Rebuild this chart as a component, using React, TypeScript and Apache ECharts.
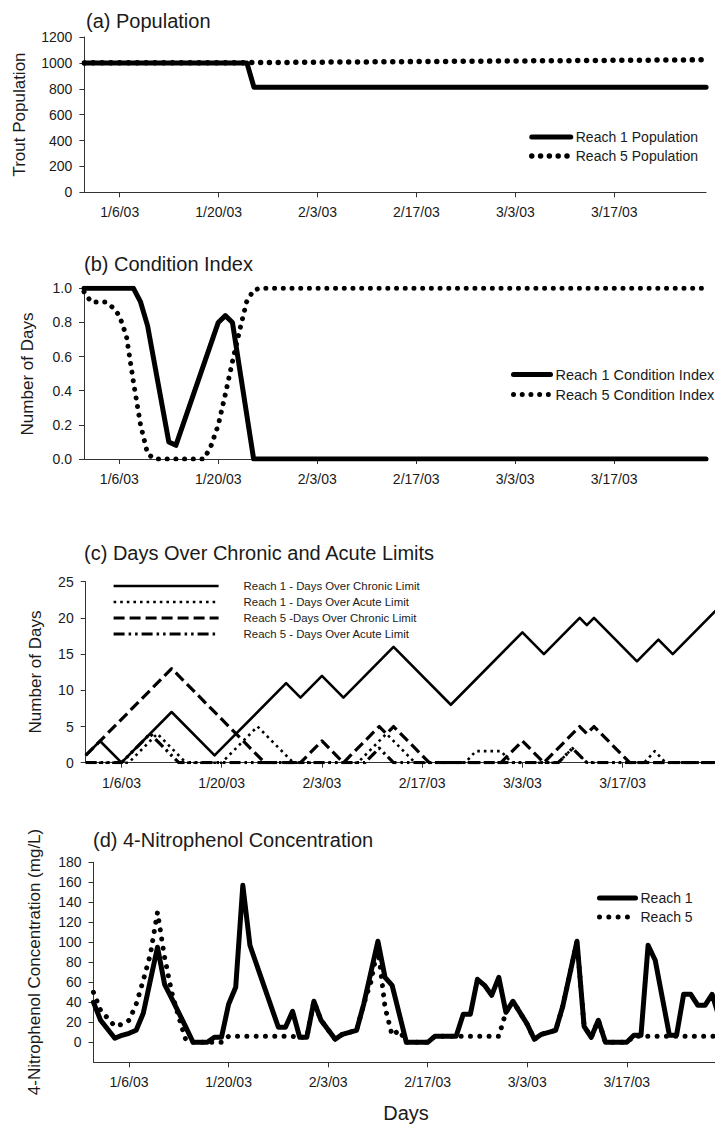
import React, { useEffect, useRef } from "react";
import * as echarts from "echarts";

// x values are days counted from 1/1/03
const tickDays = [5, 19, 33, 47, 61, 75];
const tickLabels = ["1/6/03", "1/20/03", "2/3/03", "2/17/03", "3/3/03", "3/17/03"];
const concTicks = [0, 20, 40, 60, 80, 100, 120, 140, 160, 180];

// (a) Population
const popReach1 = [[0, 1000], [23, 1000], [24, 812], [88, 812]];
const popReach5 = [[0, 1000], [23, 1002], [88, 1024]];

// (b) Condition index
const condReach1 = [[0, 1], [7, 1], [8, 0.92], [9, 0.78], [12, 0.1], [13, 0.08], [19, 0.8], [20, 0.84], [21, 0.8], [24, 0], [88, 0]];
const condReach5 = [[0, 0.98], [1, 0.92], [3, 0.92], [4, 0.89], [5, 0.84], [6, 0.72], [7, 0.45], [8, 0.2], [9, 0.03], [10, 0], [17, 0], [18, 0.08], [19, 0.2], [20, 0.38], [21, 0.57], [22, 0.75], [23, 0.92], [24, 0.99], [25, 1], [88, 1]];

// (c) Days over chronic and acute limits
const chronicReach1 = [[0, 1], [2, 3], [5, 0], [12, 7], [18, 1], [28, 11], [30, 9], [33, 12], [36, 9], [43, 16], [51, 8], [61, 18], [64, 15], [69, 20], [70, 19], [71, 20], [77, 14], [80, 17], [82, 15], [88, 21]];
const acuteReach1 = [[0, 0], [6, 0], [10, 4], [14, 0], [19, 0], [24, 5], [29, 0], [38, 0], [42, 4], [46, 0], [53, 0], [54.5, 1.6], [58, 1.6], [59.5, 0], [66, 0], [68, 2], [70, 0], [78, 0], [79.5, 1.6], [81, 0], [88, 0]];
const chronicReach5 = [[0, 1], [12, 13], [25, 0], [30, 0], [33, 3], [36, 0], [41, 5], [42, 4], [43, 5], [48, 0], [58, 0], [61, 3], [64, 0], [69, 5], [70, 4], [71, 5], [76, 0], [88, 0]];
const acuteReach5 = [[0, 0], [5, 0], [9, 4], [13, 0], [39, 0], [41, 2], [43, 0], [66, 0], [68, 2], [70, 0], [88, 0]];

// (d) 4-Nitrophenol concentration (mg/L)
const concReach1 = [[0, 40], [1, 22], [3, 4], [4, 7], [5, 9], [6, 12], [7, 29], [9, 95], [10, 58], [11, 44], [13, 15], [14, 0], [16, 0], [17, 5], [18, 5], [19, 38], [20, 55], [21, 157], [22, 97], [26, 15], [27, 15], [28, 31], [29, 5], [30, 5], [31, 41], [32, 22], [34, 3], [35, 8], [37, 12], [38, 38], [40, 101], [41, 65], [42, 57], [44, 0], [47, 0], [48, 6], [51, 6], [52, 28], [53, 28], [54, 63], [55, 57], [56, 47], [57, 65], [58, 30], [59, 41], [61, 18], [62, 3], [63, 8], [64, 10], [65, 12], [66, 36], [68, 101], [69, 16], [70, 5], [71, 22], [72, 0], [75, 0], [76, 7], [77, 7], [78, 97], [79, 82], [81, 7], [82, 7], [83, 48], [84, 48], [85, 37], [86, 37], [87, 48], [88, 25]];
const concReach5 = [[0, 50], [1, 32], [2, 24], [3, 16], [4, 18], [5, 22], [6, 38], [7, 62], [8, 88], [9, 130], [10, 85], [11, 50], [12, 25], [13, 2], [14, 0], [18, 0], [19, 6], [28, 6], [29, 5], [30, 5], [31, 41], [32, 22], [34, 3], [35, 8], [37, 12], [38, 38], [39, 60], [40, 95], [41, 35], [42, 7], [43, 12], [44, 0], [47, 0], [48, 6], [57, 6], [58, 30], [59, 41], [61, 18], [62, 3], [63, 8], [64, 10], [65, 12], [66, 36], [68, 101], [69, 16], [70, 5], [71, 22], [72, 0], [75, 0], [76, 6], [88, 6]];

const FONT = "'Liberation Sans', Arial, Helvetica, sans-serif";
const TXT = "#1a1a1a";
const AX = "#333";

function xAxis(gridIndex: number) {
  return {
    type: "value",
    gridIndex,
    min: 0,
    max: 88,
    axisLine: { onZero: false, lineStyle: { color: AX, width: 1 } },
    axisTick: { show: true, inside: false, length: 5, customValues: tickDays, lineStyle: { color: AX } },
    axisLabel: {
      customValues: tickDays,
      formatter: (v: number) => {
        const i = tickDays.indexOf(Math.round(v));
        return i >= 0 ? tickLabels[i] : "";
      },
      fontSize: 14,
      color: TXT,
      fontFamily: FONT,
      margin: 13,
    },
    splitLine: { show: false },
  };
}

function yAxis(gridIndex: number, min: number, max: number, interval: number, extra: any = {}) {
  return {
    type: "value",
    gridIndex,
    min,
    max,
    interval,
    axisLine: { show: true, onZero: false, lineStyle: { color: AX, width: 1 } },
    axisTick: { show: true, inside: false, length: 5, lineStyle: { color: AX }, ...(extra.axisTick || {}) },
    axisLabel: { fontSize: 14, color: TXT, fontFamily: FONT, margin: 12, formatter: (v: number) => String(v), ...(extra.axisLabel || {}) },
    splitLine: { show: false },
  };
}

function legend(names: string[], left: number, top: number, itemWidth: number, fontSize: number, itemHeight: number, textPad = 0) {
  return {
    data: names,
    orient: "vertical",
    left,
    top,
    padding: 0,
    itemWidth,
    itemHeight,
    itemGap: 5,
    selectedMode: false,
    itemStyle: { opacity: 0 },
    lineStyle: { width: "inherit", type: "inherit", cap: "inherit" },
    textStyle: { fontSize, color: TXT, fontFamily: FONT, padding: [0, 0, 0, textPad] },
  };
}

function line(name: string, xi: number, data: number[][], lineStyle: any, z = 2) {
  return {
    type: "line",
    name,
    xAxisIndex: xi,
    yAxisIndex: xi,
    data,
    symbol: "none",
    z,
    lineStyle: { color: "#000", join: "round", ...lineStyle },
  };
}

function buildOption() {
  const dots = (w: number, gap: number) => ({ width: w, type: [0.01, gap], cap: "round" });
  return {
    animation: false,
    backgroundColor: "#fff",
    textStyle: { fontFamily: FONT },
    grid: [
      { left: 84.4, top: 37, width: 621.7, height: 155.3, containLabel: false },
      { left: 84, top: 288.3, width: 622, height: 170.7, containLabel: false },
      { left: 85.7, top: 581.7, width: 630, height: 181, containLabel: false },
      { left: 93.5, top: 862.3, width: 625.7, height: 200, containLabel: false },
    ],
    xAxis: [xAxis(0), xAxis(1), xAxis(2), xAxis(3)],
    yAxis: [
      yAxis(0, 0, 1200, 200),
      yAxis(1, 0, 1, 0.2, { axisLabel: { formatter: (v: number) => v.toFixed(1) } }),
      yAxis(2, 0, 25, 5),
      yAxis(3, -20, 180, 20, {
        axisLabel: { customValues: concTicks, formatter: (v: number) => (v < 0 ? "" : String(v)) },
        axisTick: { customValues: concTicks },
      }),
    ],
    legend: [
      legend(["Reach 1 Population", "Reach 5 Population"], 529, 130, 39, 14, 14),
      legend(["Reach 1 Condition Index", "Reach 5 Condition Index"], 511, 367, 37, 14.5, 14),
      legend([
        "Reach 1 - Days Over Chronic Limit",
        "Reach 1 - Days Over Acute Limit",
        "Reach 5 -Days Over Chronic Limit",
        "Reach 5 - Days Over Acute Limit",
      ], 112, 580.5, 105, 11.4, 10.5, 20),
      legend(["Reach 1", "Reach 5"], 597, 891, 36, 14, 13),
    ],
    series: [
      line("Reach 1 Population", 0, popReach1, { width: 5, cap: "round" }),
      line("Reach 5 Population", 0, popReach5, dots(5.5, 8.8)),
      line("Reach 1 Condition Index", 1, condReach1, { width: 5, cap: "round" }),
      line("Reach 5 Condition Index", 1, condReach5, dots(5, 8.7), 3),
      line("Reach 1 - Days Over Chronic Limit", 2, chronicReach1, { width: 2.6 }),
      line("Reach 1 - Days Over Acute Limit", 2, acuteReach1, { width: 2.6, type: [2.6, 4] }),
      line("Reach 5 -Days Over Chronic Limit", 2, chronicReach5, { width: 3.2, type: [11, 5] }),
      line("Reach 5 - Days Over Acute Limit", 2, acuteReach5, { width: 3.2, type: [11, 4, 2.5, 4, 2.5, 4] }),
      line("Reach 1", 3, concReach1, { width: 5, cap: "round" }),
      line("Reach 5", 3, concReach5, dots(5, 9.3), 3),
    ],
    graphic: [
      { type: "text", x: 86, y: 21, style: { text: "(a) Population", fontSize: 20, fontFamily: FONT, fill: TXT, align: "left", verticalAlign: "middle" } },
      { type: "text", x: 84, y: 264, style: { text: "(b) Condition Index", fontSize: 20, fontFamily: FONT, fill: TXT, align: "left", verticalAlign: "middle" } },
      { type: "text", x: 84, y: 553, style: { text: "(c) Days Over Chronic and Acute Limits", fontSize: 20, fontFamily: FONT, fill: TXT, align: "left", verticalAlign: "middle" } },
      { type: "text", x: 93, y: 840, style: { text: "(d) 4-Nitrophenol Concentration", fontSize: 20, fontFamily: FONT, fill: TXT, align: "left", verticalAlign: "middle" } },
      { type: "text", x: 19, y: 114.5, rotation: Math.PI / 2, style: { text: "Trout Population", fontSize: 17, fontFamily: FONT, fill: TXT, align: "center", verticalAlign: "middle" } },
      { type: "text", x: 27, y: 374, rotation: Math.PI / 2, style: { text: "Number of Days", fontSize: 17, fontFamily: FONT, fill: TXT, align: "center", verticalAlign: "middle" } },
      { type: "text", x: 35, y: 672, rotation: Math.PI / 2, style: { text: "Number of Days", fontSize: 17, fontFamily: FONT, fill: TXT, align: "center", verticalAlign: "middle" } },
      { type: "text", x: 34, y: 962, rotation: Math.PI / 2, style: { text: "4-Nitrophenol Concentration (mg/L)", fontSize: 17, fontFamily: FONT, fill: TXT, align: "center", verticalAlign: "middle" } },
      { type: "text", x: 406, y: 1113, style: { text: "Days", fontSize: 20, fontFamily: FONT, fill: TXT, align: "center", verticalAlign: "middle" } },
    ],
  };
}

export default function App() {
  const ref = useRef<HTMLDivElement>(null);
  useEffect(() => {
    if (!ref.current) return;
    const chart = echarts.init(ref.current, null, { renderer: "svg" });
    chart.setOption(buildOption() as any);
    return () => chart.dispose();
  }, []);
  return (
    <div style={{ position: "fixed", left: 0, top: 0, width: 715, height: 1124, overflow: "hidden", background: "#fff" }}>
      <div ref={ref} style={{ width: 735, height: 1124 }} />
    </div>
  );
}
